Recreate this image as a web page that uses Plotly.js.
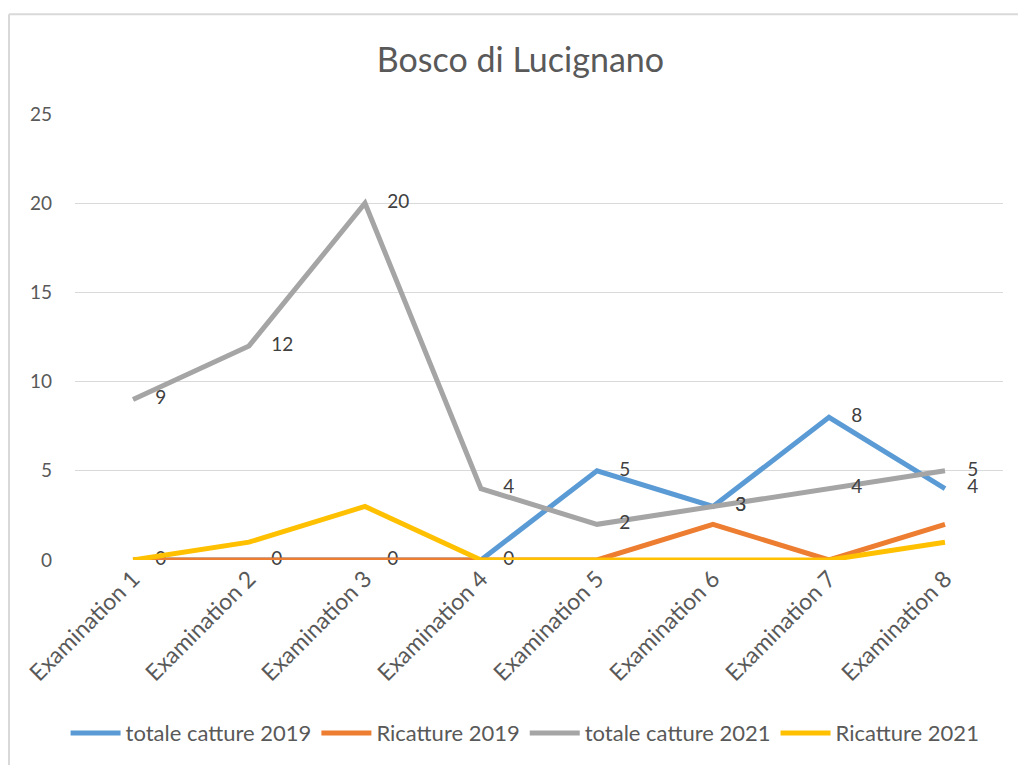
<!DOCTYPE html>
<html>
<head>
<meta charset="utf-8">
<script src="https://cdn.plot.ly/plotly-3.0.1.min.js"></script>
<style>
html,body{margin:0;padding:0;background:#fff;}
#chart{width:1018px;height:765px;}
</style>
</head>
<body>
<div id="chart"></div>
<script>
const categories = ["Examination 1","Examination 2","Examination 3","Examination 4","Examination 5","Examination 6","Examination 7","Examination 8"];
const totaleCatture2019 = [0,0,0,0,5,3,8,4];
const ricatture2019 = [0,0,0,0,0,2,0,2];
const totaleCatture2021 = [9,12,20,4,2,3,4,5];
const ricatture2021 = [0,1,3,0,0,0,0,1];
const seriesNames = ["totale catture 2019","Ricatture 2019","totale catture 2021","Ricatture 2021"];
const yTicks = [0,5,10,15,20,25];

const FONT = "Lato, 'Open Sans', sans-serif";
const labelFont = {family: FONT, size: 19, color: "#404040"};

function labelled(name, y, color) {
  return {
    type: "scatter", x: categories, y: y, name: name,
    mode: "lines+markers+text",
    line: {color: color, width: 5},
    marker: {size: 34, color: "rgba(0,0,0,0)", line: {width: 0}},
    text: y.map(String), textposition: "middle right",
    textfont: labelFont, cliponaxis: false, hoverinfo: "x+y+name"
  };
}
function plain(name, y, color) {
  return {
    type: "scatter", x: categories, y: y, name: name, mode: "lines",
    line: {color: color, width: 5}, cliponaxis: false
  };
}

const data = [
  labelled(seriesNames[0], totaleCatture2019, "#5B9BD5"),
  plain(seriesNames[1], ricatture2019, "#ED7D31"),
  labelled(seriesNames[2], totaleCatture2021, "#A5A5A5"),
  plain(seriesNames[3], ricatture2021, "#FFC000")
];

const layout = {
  width: 1018, height: 765,
  margin: {l: 75, r: 15, t: 114, b: 204},
  paper_bgcolor: "#ffffff", plot_bgcolor: "#ffffff",
  font: {family: FONT, color: "#595959", size: 18},
  title: {text: "Bosco di Lucignano", font: {family: FONT, size: 34, color: "#595959"},
          x: 0.48, xanchor: "center", y: 0.922, yanchor: "middle", xref: "paper"},
  xaxis: {
    type: "category", range: [-0.5, 7.5], showgrid: false, zeroline: false,
    showline: false, ticks: "", tickangle: -45,
    tickfont: {family: FONT, size: 23, color: "#595959"}, automargin: false
  },
  yaxis: {
    range: [0, 25], tickvals: yTicks, ticktext: yTicks.map(String),
    showgrid: true, gridcolor: "#D9D9D9", gridwidth: 1.3, zeroline: false,
    showline: false, ticks: "", ticklabelstandoff: 22,
    tickfont: {family: FONT, size: 19, color: "#595959"}, automargin: false
  },
  showlegend: true,
  legend: {orientation: "h", x: 0.485, xanchor: "center", y: -0.385, yanchor: "middle",
           font: {family: FONT, size: 22, color: "#595959"}, itemwidth: 50,
           tracegroupgap: 0, bgcolor: "rgba(0,0,0,0)"},
  shapes: [
    {type: "line", xref: "paper", yref: "paper",
     x0: (9-75)/928, x1: (9-75)/928, y0: (561-14)/447, y1: (561-770)/447,
     line: {color: "#D9D9D9", width: 2}},
    {type: "line", xref: "paper", yref: "paper",
     x0: (9-75)/928, x1: (1020-75)/928, y0: (561-14)/447, y1: (561-14)/447,
     line: {color: "#D9D9D9", width: 2}}
  ]
};

Plotly.newPlot("chart", data, layout, {displayModeBar: false, staticPlot: true});
</script>
</body>
</html>
